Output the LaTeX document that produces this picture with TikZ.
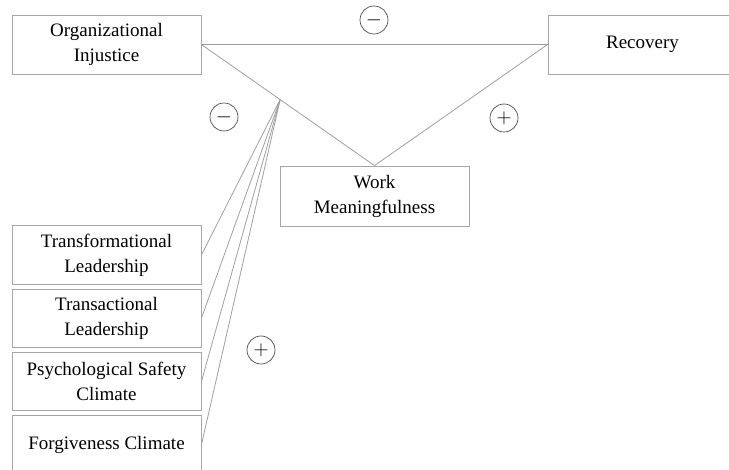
\documentclass[tikz,border=0pt]{standalone}
\usepackage{fontspec}
\setmainfont{Liberation Serif}
\usetikzlibrary{positioning}
\tikzset{
    varbox/.style={rectangle, draw=gray!70, line width=0.8pt, minimum width=189pt, minimum height=58.5pt, inner sep=2pt, align=center, font=\fontsize{19}{25}\selectfont},
    link/.style={draw=gray!75, line width=0.8pt},
    signnode/.style={circle, draw=black!70, line width=0.7pt, minimum size=28pt, inner sep=0pt, font=\fontsize{20}{20}\selectfont}
}

\begin{document}
\begin{tikzpicture}[x=1pt, y=-1pt, node distance=4pt]
  \useasboundingbox (0,0) rectangle (729,470);
  \node[varbox, minimum height=59pt] (oi) at (106.5,44.5) {Organizational\\Injustice};
  \node[varbox, minimum height=59pt] (rec) at (642.5,44.5) {Recovery};
  \node[varbox, minimum height=60pt] (wm) at (374.5,196) {Work\\Meaningfulness};
  \node[varbox] (tfl) at (106.5,255) {Transformational\\Leadership};
  \node[varbox, below=of tfl] (tsl) {Transactional\\Leadership};
  \node[varbox, below=of tsl] (psc) {Psychological Safety\\Climate};
  \node[varbox, below=of psc] (fgc) {Forgiveness Climate};
  % paths
  \draw[link] (oi.east) -- (rec.west);
  \draw[link] (oi.east) -- coordinate[pos=0.455] (mod) (wm.north);
  \draw[link] (rec.west) -- (wm.north);
  \foreach \m in {tfl, tsl, psc, fgc}
    \draw[link] (\m.east) -- (mod);
  % signs
  \node[signnode] (s1) at (374,20) {$-$};
  \node[signnode] (s2) at (224,117) {$-$};
  \node[signnode] (s3) at (504,118) {$+$};
  \node[signnode] (s4) at (261,350) {$+$};
\end{tikzpicture}
\end{document}
